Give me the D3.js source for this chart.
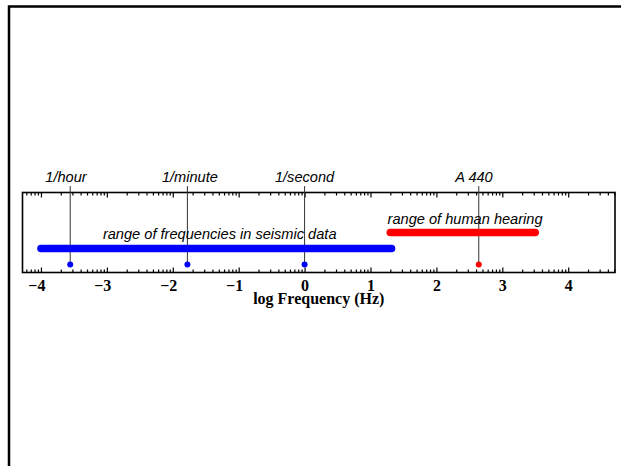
<!DOCTYPE html>
<html>
<head>
<meta charset="utf-8">
<script src="https://cdn.jsdelivr.net/npm/d3@7"></script>
<style>
  body { margin: 0; background: #fff; }
  .tickLabel { font-family: "Liberation Serif", "Times New Roman", serif; font-weight: bold; font-size: 16px; }
  .note { font-family: "Liberation Sans", Arial, sans-serif; font-style: italic; font-size: 14.6px; }
</style>
</head>
<body>
<div id="chart"></div>
<script>
// log10 frequency values
var majorTicks = [-4, -3, -2, -1, 0, 1, 2, 3, 4];
var minorFactors = [2, 3, 4, 5, 6, 7, 8, 9];

var rangeNames = ["range of frequencies in seismic data", "range of human hearing"];
var rangeStart = [-4, 1.3];
var rangeEnd = [1.32, 3.5];
var rangeLevel = [0.3, 0.5];
var rangeLabelX = [-3.06, 1.26];
var rangeLabelLevel = [0.415, 0.61];
var rangeColors = ["#0000ff", "#ff0000"];

var markNames = ["1/hour", "1/minute", "1/second", "A 440"];
var markValues = [-3.556, -1.778, 0, 2.643];
var markLabelX = [-3.62, -1.74, 0.0, 2.57];
var markColors = ["#0000ff", "#0000ff", "#0000ff", "#ff0000"];
var markLevel = 0.1;

var svgWidth = 621;
var svgHeight = 466;

var margin = { top: 192.5, right: 6, bottom: 193.5, left: 22.5 };
var width = svgWidth - margin.left - margin.right;
var height = svgHeight - margin.top - margin.bottom;

var svg = d3.select("#chart")
    .append("svg")
    .attr("width", svgWidth)
    .attr("height", svgHeight);

// outer frame
svg.append("rect")
    .attr("x", 9)
    .attr("y", 6.5)
    .attr("width", 700)
    .attr("height", 600)
    .attr("fill", "none")
    .attr("stroke", "black")
    .attr("stroke-width", 2.5);

var chartGroup = svg.append("g")
    .attr("transform", `translate(${margin.left}, ${margin.top})`);

var xScale = d3.scaleLinear()
    .domain([-4.28, 4.71])
    .range([0, width]);

var yScale = d3.scaleLinear()
    .domain([0, 1])
    .range([height, 0]);

// minor log ticks inside every decade
var minorTicks = [];
d3.range(-5, 5).forEach(function(n) {
    minorFactors.forEach(function(k) {
        var v = n + Math.log10(k);
        if (v > xScale.domain()[0] && v < xScale.domain()[1]) minorTicks.push(v);
    });
});

function styleAxis(g) {
    g.select(".domain").remove();
    g.selectAll(".tick line").attr("stroke", "black").attr("stroke-width", 1.2);
}

// bottom axis, ticks pointing in
var bottomMajor = chartGroup.append("g")
    .attr("transform", `translate(0, ${height})`)
    .call(d3.axisBottom(xScale).tickValues(majorTicks).tickSizeInner(-5).tickSizeOuter(0)
        .tickFormat(d => d < 0 ? "\u2212" + Math.abs(d) : d).tickPadding(0))
    .call(styleAxis);

// digit centred on the tick, minus sign hanging to the left
bottomMajor.selectAll("text")
    .attr("class", "tickLabel")
    .attr("fill", "black")
    .attr("text-anchor", "end")
    .attr("x", 4)
    .attr("y", 18.5)
    .attr("dy", null);

chartGroup.append("g")
    .attr("transform", `translate(0, ${height})`)
    .call(d3.axisBottom(xScale).tickValues(minorTicks).tickSizeInner(-3).tickSizeOuter(0).tickFormat(""))
    .call(styleAxis);

// top axis, mirrored
chartGroup.append("g")
    .call(d3.axisTop(xScale).tickValues(majorTicks).tickSizeInner(-5).tickSizeOuter(0).tickFormat(""))
    .call(styleAxis);

chartGroup.append("g")
    .call(d3.axisTop(xScale).tickValues(minorTicks).tickSizeInner(-3).tickSizeOuter(0).tickFormat(""))
    .call(styleAxis);

// box
chartGroup.append("rect")
    .attr("width", width)
    .attr("height", height)
    .attr("fill", "none")
    .attr("stroke", "black")
    .attr("stroke-width", 1.6);

// leader lines from labels to points
chartGroup.selectAll(".leader")
    .data(markValues)
    .enter()
    .append("line")
    .attr("class", "leader")
    .attr("x1", d => xScale(d))
    .attr("x2", d => xScale(d))
    .attr("y1", yScale(1.08))
    .attr("y2", yScale(markLevel))
    .attr("stroke", "#333")
    .attr("stroke-width", 1);

// frequency ranges
chartGroup.selectAll(".range")
    .data(rangeStart)
    .enter()
    .append("line")
    .attr("class", "range")
    .attr("x1", d => xScale(d))
    .attr("x2", (d, i) => xScale(rangeEnd[i]))
    .attr("y1", (d, i) => yScale(rangeLevel[i]))
    .attr("y2", (d, i) => yScale(rangeLevel[i]))
    .attr("stroke", (d, i) => rangeColors[i])
    .attr("stroke-width", 7.5)
    .attr("stroke-linecap", "round");

chartGroup.selectAll(".rangeLabel")
    .data(rangeNames)
    .enter()
    .append("text")
    .attr("class", "note")
    .attr("x", (d, i) => xScale(rangeLabelX[i]))
    .attr("y", (d, i) => yScale(rangeLabelLevel[i]))
    .text(d => d);

// single frequencies
chartGroup.selectAll(".mark")
    .data(markValues)
    .enter()
    .append("circle")
    .attr("class", "mark")
    .attr("cx", d => xScale(d))
    .attr("cy", yScale(markLevel))
    .attr("r", 3)
    .attr("fill", (d, i) => markColors[i]);

chartGroup.selectAll(".markLabel")
    .data(markNames)
    .enter()
    .append("text")
    .attr("class", "note")
    .attr("text-anchor", "middle")
    .attr("x", (d, i) => xScale(markLabelX[i]))
    .attr("y", yScale(1.135))
    .text(d => d);

// axis title
chartGroup.append("text")
    .attr("class", "tickLabel")
    .attr("text-anchor", "middle")
    .attr("x", width / 2)
    .attr("y", height + 31.5)
    .text("log Frequency (Hz)");
</script>
</body>
</html>
